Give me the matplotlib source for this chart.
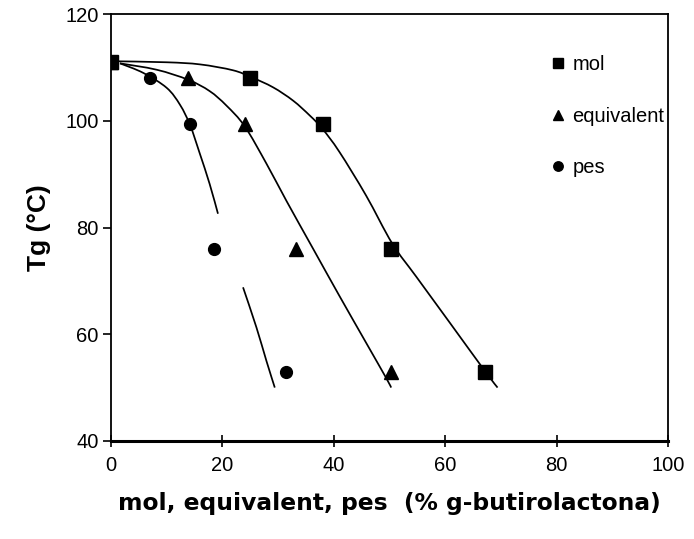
import numpy as np
import matplotlib
matplotlib.use('Agg')
import matplotlib.pyplot as plt
from matplotlib.path import Path
from matplotlib.patches import PathPatch

# ================== DADES ==================
TG = [111, 108, 99.4, 76, 53]          # Tg (°C) per a cada mostra
MOL = [0, 25, 38, 50.3, 67.2]           # % mol g-butirolactona
EQUIV = [0, 13.9, 24, 33.3, 50.3]       # % equivalent
PES = [0, 7, 14.2, 18.5, 31.5]          # % pes

# línies de tendència dibuixades a mà (x, Tg)
TEND_MOL_X = [0, 10, 16, 21.9, 25.2, 29.1, 32.7, 35.7, 37.9, 41.0, 45.8, 50.5, 54.8, 60.8, 67.2, 69.4]
TEND_MOL_Y = [111.2, 111.0, 110.6, 109.5, 108.2, 106.3, 103.8, 101.0, 98.6, 94.2, 86.0, 77.0, 70.8, 62.2, 53.0, 50.0]

TEND_EQ_X = [1.6, 8.2, 13.9, 17.7, 20.7, 24.0, 27.9, 31.5, 36.3, 41.0, 45.8, 49.4, 50.3]
TEND_EQ_Y = [110.8, 109.6, 107.7, 105.6, 102.9, 99.0, 92.0, 85.0, 76.0, 67.2, 58.4, 51.8, 50.0]

# el tram de 'pes' queda tallat entre 82 i 69 °C
TEND_PES_X = [1.6, 5.8, 10.0, 12.4, 14.2, 15.9, 17.7, 19.2, np.nan, 23.7, 26.1, 27.9, 29.4]
TEND_PES_Y = [110.8, 109.0, 106.2, 103.0, 99.2, 94.0, 88.2, 82.6, np.nan, 68.8, 61.3, 55.0, 50.0]


def corba_suau(xs, ys):
    """Path de Bézier (Catmull-Rom) que passa pels punts, com la 'línia suavitzada' d'Excel."""
    p = np.column_stack([xs, ys]).astype(float)
    ext = np.vstack([p[0], p, p[-1]])
    verts = [tuple(p[0])]
    codes = [Path.MOVETO]
    for i in range(1, len(ext) - 2):
        p0, p1, p2, p3 = ext[i - 1], ext[i], ext[i + 1], ext[i + 2]
        c1 = p1 + (p2 - p0) / 6
        c2 = p2 - (p3 - p1) / 6
        verts += [tuple(c1), tuple(c2), tuple(p2)]
        codes += [Path.CURVE4] * 3
    return Path(verts, codes)


def trams(xs, ys):
    # separa la sèrie pels forats (NaN)
    xs, ys = np.asarray(xs, float), np.asarray(ys, float)
    forat = np.isnan(xs)
    talls = np.split(np.arange(len(xs)), np.where(forat)[0])
    for idx in talls:
        idx = idx[~forat[idx]]
        if len(idx) > 1:
            yield xs[idx], ys[idx]


plt.rcParams['font.family'] = ['Liberation Sans', 'DejaVu Sans']

fig = plt.figure(figsize=(6.94, 5.39), dpi=100)
ax = fig.add_axes([0.16, 0.182, 0.8025, 0.7915])

for tx, ty in [(TEND_MOL_X, TEND_MOL_Y), (TEND_EQ_X, TEND_EQ_Y), (TEND_PES_X, TEND_PES_Y)]:
    for sx, sy in trams(tx, ty):
        ax.add_patch(PathPatch(corba_suau(sx, sy), fill=False, edgecolor='black',
                               lw=1.25, zorder=2))

series = [
    ('mol', MOL, 's', 9.5),
    ('equivalent', EQUIV, '^', 9.5),
    ('pes', PES, 'o', 8.5),
]
for nom, xs, marca, mida in series:
    ax.plot(xs, TG, linestyle='none', marker=marca, markersize=mida,
            color='black', label=nom, zorder=3)

ax.set_xlim(0, 100)
ax.set_ylim(40, 120)
ax.set_xticks(np.arange(0, 101, 20))
ax.set_yticks(np.arange(40, 121, 20))
ax.tick_params(axis='x', direction='inout', length=8, width=1.2, labelsize=14.5, pad=7)
ax.tick_params(axis='y', direction='out', length=6, width=1.2, labelsize=14.5, pad=3)
for lado in ax.spines.values():
    lado.set_linewidth(1.3)
ax.spines['bottom'].set_linewidth(2.2)

ax.set_ylabel('Tg (°C)', fontsize=19, fontweight='bold', labelpad=10)
ax.set_xlabel('mol, equivalent, pes  (% g-butirolactona)', fontsize=16.8,
              fontweight='bold', family='DejaVu Sans', labelpad=12)

leg = ax.legend(loc='upper left', bbox_to_anchor=(0.76, 0.947), frameon=False,
                fontsize=14.5, labelspacing=1.62, handlelength=0.6,
                handletextpad=0.4, markerscale=0.8)

fig.savefig('out.png', dpi=100)
